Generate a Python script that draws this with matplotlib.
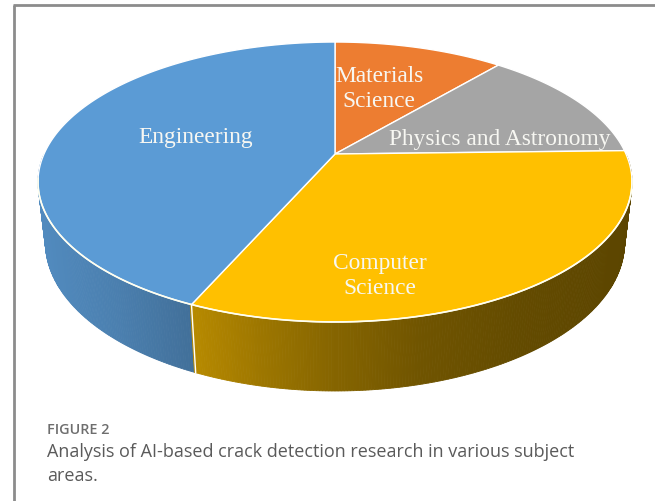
import numpy as np
import matplotlib
matplotlib.use("Agg")
import matplotlib.pyplot as plt
from matplotlib.patches import Polygon
from matplotlib.colors import to_rgb

# ---- data ----
categories = ["Materials\nScience", "Physics and Astronomy", "Computer\nScience", "Engineering"]
values = [11.2, 13.4, 32.0, 43.4]
colors = ["#ED7D31", "#A5A5A5", "#FFC000", "#5B9BD5"]
caption_head = "FIGURE 2"
caption_text = "Analysis of AI-based crack detection research in various subject\nareas."

# ---- camera / geometry (pixel space) ----
W, H = 655, 502
X0, Y0 = 335, 155          # projected pie centre (top face)
PHI = np.deg2rad(27.5)
C, S = np.cos(PHI), np.sin(PHI)
D = 4.435
K = 1290.6
HGT = 0.2365
START = 90.0               # first slice starts at 12 o'clock, clockwise


def proj(x, y, z):
    x = np.asarray(x, float); y = np.asarray(y, float); z = np.asarray(z, float)
    depth = y * C - z * S + D
    up = y * S + z * C
    return X0 + K * x / depth, Y0 - K * up / depth


def shade(px):
    xs = [38, 120, 193, 260, 330, 420, 520, 632]
    fs = [0.90, 0.82, 0.72, 0.62, 0.53, 0.44, 0.39, 0.36]
    return float(np.interp(px, xs, fs))


fig = plt.figure(figsize=(W / 100, H / 100), dpi=100)
ax = fig.add_axes([0, 0, 1, 1])
ax.set_xlim(0, W)
ax.set_ylim(H, 0)
ax.axis("off")

# slice angle ranges (degrees, clockwise from START)
tot = sum(values)
bounds = []
a = START
for v in values:
    b = a - 360.0 * v / tot
    bounds.append((a, b))
    a = b


def slice_of(theta_deg):
    t = (START - theta_deg) % 360.0
    acc = 0.0
    for i, v in enumerate(values):
        acc += 360.0 * v / tot
        if t < acc:
            return i
    return len(values) - 1


# ---- side wall (front facing strips) ----
thetas = np.linspace(180, 360, 361)
for t0, t1 in zip(thetas[:-1], thetas[1:]):
    tm = 0.5 * (t0 + t1)
    i = slice_of(tm)
    r0, r1 = np.deg2rad(t0), np.deg2rad(t1)
    xs3 = [np.cos(r0), np.cos(r1), np.cos(r1), np.cos(r0)]
    ys3 = [np.sin(r0), np.sin(r1), np.sin(r1), np.sin(r0)]
    zs3 = [0, 0, -HGT, -HGT]
    px, py = proj(xs3, ys3, zs3)
    f = shade(px.mean())
    col = tuple(np.clip(np.array(to_rgb(colors[i])) * f, 0, 1))
    ax.add_patch(Polygon(np.c_[px, py], closed=True, facecolor=col,
                         edgecolor=col, lw=0.6, zorder=1))

# vertical boundary lines on side where slice edges face the viewer
for (a0, b0) in bounds:
    ang = b0 % 360
    if 185 < ang < 355:
        r = np.deg2rad(ang)
        px, py = proj([np.cos(r)] * 2, [np.sin(r)] * 2, [0, -HGT])
        ax.plot(px, py, color="white", lw=1.0, zorder=2)

# ---- top face ----
for (a0, b0), col in zip(bounds, colors):
    tt = np.deg2rad(np.linspace(a0, b0, 200))
    px, py = proj(np.r_[0, np.cos(tt)], np.r_[0, np.sin(tt)], np.zeros(len(tt) + 1))
    ax.add_patch(Polygon(np.c_[px, py], closed=True, facecolor=col,
                         edgecolor="white", lw=1.0, joinstyle="round", zorder=3))

# bright rim along the front edge of the top face
tt = np.deg2rad(np.linspace(190, 350, 300))
px, py = proj(np.cos(tt), np.sin(tt), np.zeros_like(tt))
ax.plot(px, py, color="#FFFFF0", lw=1.2, zorder=4)

# ---- labels ----
lab_font = ["Liberation Serif", "DejaVu Serif"]
label_pos = [(379, 89), (500, 140), (380, 276), (196, 138)]
for txt, (lx, ly) in zip(categories, label_pos):
    ax.text(lx, ly, txt, ha="center", va="center", fontsize=16.8,
            family=lab_font, color="#F7F7F2", linespacing=1.2, zorder=5)

# ---- frame and caption ----
ax.plot([14, 14], [H, 5.5], color="#8C8C8C", lw=2.0, solid_capstyle="butt", zorder=6)
ax.plot([13, W], [5.5, 5.5], color="#8C8C8C", lw=2.0, solid_capstyle="butt", zorder=6)

cap_font = ["Open Sans", "DejaVu Sans"]
ax.text(47, 430, caption_head, ha="left", va="center", fontsize=10.4,
        family=cap_font, fontweight="semibold", color="#6E6E6E")
ax.text(47, 443, caption_text, ha="left", va="top", fontsize=13.0,
        family=cap_font, color="#5A5A5A", linespacing=1.45)

fig.savefig("out.png", dpi=100)
